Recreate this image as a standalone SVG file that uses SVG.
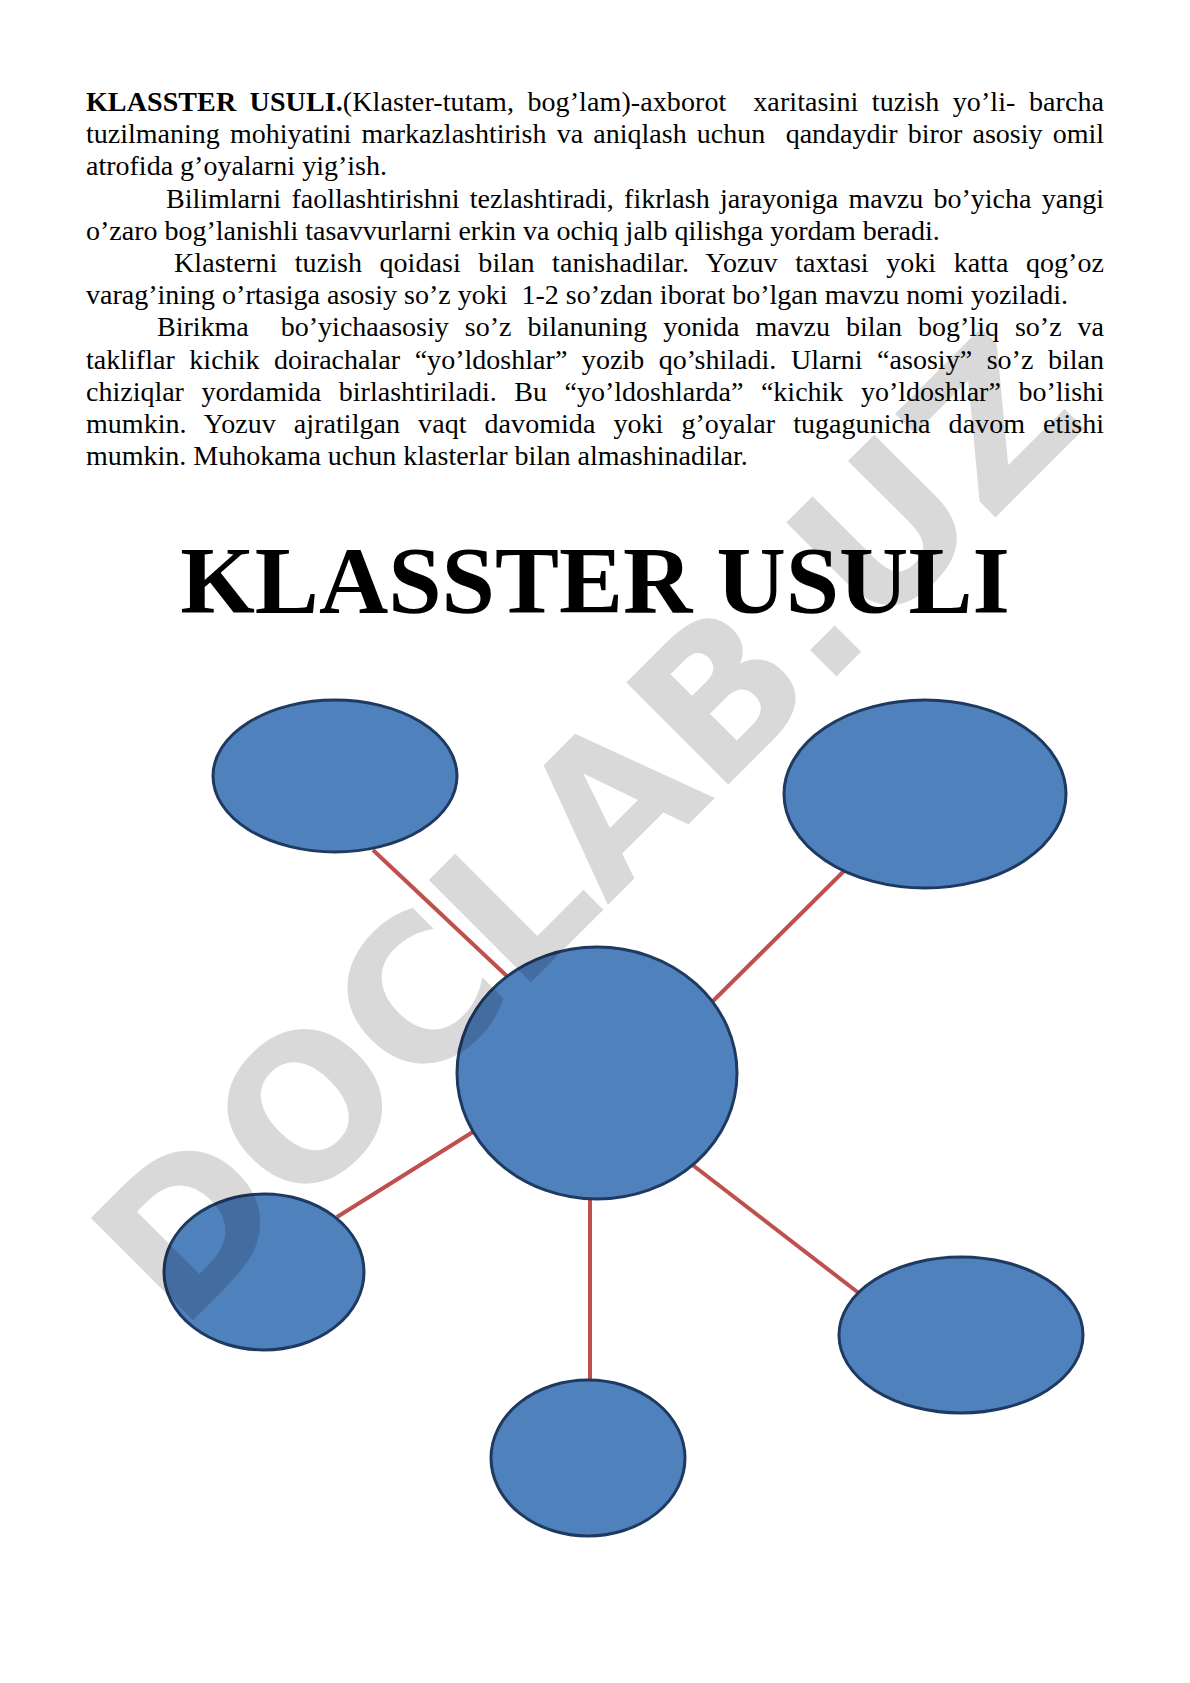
<svg xmlns="http://www.w3.org/2000/svg" width="1190" height="1683" viewBox="0 0 1190 1683">
<style>
.body{font-family:"Liberation Serif","Times New Roman",serif;font-size:28px;fill:#000}
.title{font-family:"Liberation Serif","Times New Roman",serif;font-size:96px;font-weight:bold;fill:#000}
.link{stroke:#C0504D;stroke-width:4;fill:none}
.node{fill:#4F81BD;stroke:#1F3A60;stroke-width:3}
.wm{font-family:"DejaVu Sans",sans-serif;font-weight:bold;font-size:198px;fill:#000;fill-opacity:0.15}
</style>
<rect width="1190" height="1683" fill="#fff"/>
<g id="body-text">
<text class="body" x="86" y="111" xml:space="preserve" word-spacing="6.3" textLength="1018"><tspan font-weight="bold">KLASSTER USULI.</tspan>(Klaster-tutam, bog’lam)-axborot  xaritasini tuzish yo’li- barcha</text>
<text class="body" x="86" y="143.2" xml:space="preserve" word-spacing="3.2" textLength="1018">tuzilmaning mohiyatini markazlashtirish va aniqlash uchun  qandaydir biror asosiy omil</text>
<text class="body" x="86" y="175.4" xml:space="preserve">atrofida g’oyalarni yig’ish.</text>
<text class="body" x="166" y="207.6" xml:space="preserve" word-spacing="3.3" textLength="938">Bilimlarni faollashtirishni tezlashtiradi, fikrlash jarayoniga mavzu bo’yicha yangi</text>
<text class="body" x="86" y="239.8" xml:space="preserve">o’zaro bog’lanishli tasavvurlarni erkin va ochiq jalb qilishga yordam beradi.</text>
<text class="body" x="174" y="272" xml:space="preserve" word-spacing="10.4" textLength="930">Klasterni tuzish qoidasi bilan tanishadilar. Yozuv taxtasi yoki katta qog’oz</text>
<text class="body" x="86" y="304.2" xml:space="preserve">varag’ining o’rtasiga asosiy so’z yoki  1-2 so’zdan iborat bo’lgan mavzu nomi yoziladi.</text>
<text class="body" x="157" y="336.4" xml:space="preserve" word-spacing="9" textLength="947">Birikma  bo’yichaasosiy so’z bilanuning yonida mavzu bilan bog’liq so’z va</text>
<text class="body" x="86" y="368.6" xml:space="preserve" word-spacing="7.5" textLength="1018">takliflar kichik doirachalar “yo’ldoshlar” yozib qo’shiladi. Ularni “asosiy” so’z bilan</text>
<text class="body" x="86" y="400.8" xml:space="preserve" word-spacing="10.6" textLength="1018">chiziqlar yordamida birlashtiriladi. Bu “yo’ldoshlarda” “kichik yo’ldoshlar” bo’lishi</text>
<text class="body" x="86" y="433" xml:space="preserve" word-spacing="11" textLength="1018">mumkin. Yozuv ajratilgan vaqt davomida yoki g’oyalar tugagunicha davom etishi</text>
<text class="body" x="86" y="465.2" xml:space="preserve">mumkin. Muhokama uchun klasterlar bilan almashinadilar.</text>
</g>
<g id="title">
<text class="title" x="595" y="613" text-anchor="middle">KLASSTER USULI</text>
</g>
<g id="connectors">
<line class="link" x1="373" y1="850" x2="512" y2="981"/>
<line class="link" x1="844" y1="871" x2="707" y2="1007"/>
<line class="link" x1="476" y1="1130" x2="337" y2="1217"/>
<line class="link" x1="590" y1="1195" x2="590" y2="1383"/>
<line class="link" x1="690" y1="1163" x2="860" y2="1294"/>
</g>
<g id="node-top-left"><ellipse class="node" cx="335" cy="776" rx="122" ry="76"/></g>
<g id="node-top-right"><ellipse class="node" cx="925" cy="794" rx="141" ry="94"/></g>
<g id="node-center"><ellipse class="node" cx="597" cy="1073" rx="140" ry="126"/></g>
<g id="node-bottom-left"><ellipse class="node" cx="264" cy="1272" rx="100" ry="78"/></g>
<g id="node-bottom"><ellipse class="node" cx="588" cy="1458" rx="97" ry="78"/></g>
<g id="node-right"><ellipse class="node" cx="961" cy="1335" rx="122" ry="78"/></g>
<g id="watermark">
<text class="wm" transform="translate(180,1333) rotate(-45)">DOCLAB.UZ</text>
</g>
</svg>
